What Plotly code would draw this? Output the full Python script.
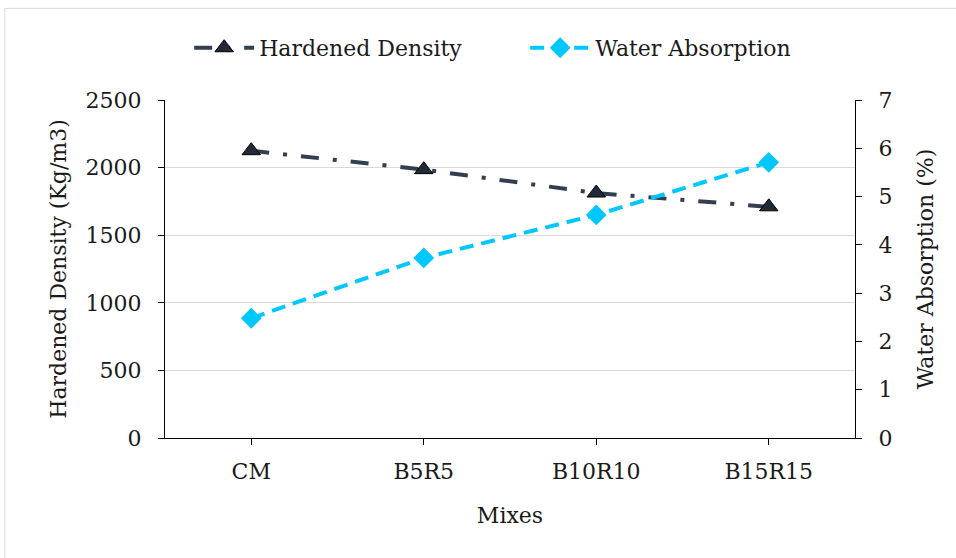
import plotly.graph_objects as go

mixes = ["CM", "B5R5", "B10R10", "B15R15"]
hardened_density = [2125, 1985, 1812, 1710]
water_absorption = [2.48, 3.73, 4.62, 5.71]

FONT = "DejaVu Serif"
FS = 22
fig = go.Figure()
fig.add_trace(go.Scatter(
    x=mixes, y=hardened_density, name="Hardened Density", mode="lines+markers",
    line=dict(color="#333F50", width=4, dash="18px,14px,4px,14px"),
    marker=dict(symbol="triangle-up", size=16, color="#222A35", line=dict(color="#000000", width=1)),
    yaxis="y", legend="legend"))
fig.add_trace(go.Scatter(
    x=mixes, y=water_absorption, name="Water Absorption", mode="lines+markers",
    line=dict(color="#00C8FF", width=4, dash="14px,8px"),
    marker=dict(symbol="diamond", size=16, color="#00C8FF"),
    yaxis="y2", legend="legend2"))

leg_common = dict(orientation="h", y=1.154, yanchor="middle", xanchor="left",
                  font=dict(family=FONT, size=FS, color="#1a1a1a"), itemwidth=60,
                  bgcolor="rgba(0,0,0,0)")
fig.update_layout(
    width=956, height=558,
    margin=dict(l=165, r=101, t=100, b=120, autoexpand=False),
    paper_bgcolor="white", plot_bgcolor="white",
    font=dict(family=FONT, size=FS, color="#1a1a1a"),
    showlegend=True,
    legend=dict(x=0.035, **leg_common),
    legend2=dict(x=0.522, **leg_common),
    xaxis=dict(range=[-0.5, 3.5], showline=True, linecolor="black", linewidth=1,
               ticks="outside", ticklen=6, tickcolor="black", ticklabelstandoff=8,
               title=dict(text="Mixes", font=dict(size=FS), standoff=24),
               showgrid=False, zeroline=False, tickfont=dict(size=FS)),
    yaxis=dict(range=[0, 2500], dtick=500, showline=True, linecolor="black", linewidth=1,
               ticks="outside", ticklen=6, tickcolor="black", gridcolor="#D9D9D9", gridwidth=1,
               ticklabelstandoff=12,
               title=dict(text="Hardened Density (Kg/m3)", font=dict(size=FS), standoff=12),
               zeroline=False, tickfont=dict(size=FS)),
    yaxis2=dict(range=[0, 7], dtick=1, overlaying="y", side="right", showline=True,
                linecolor="black", linewidth=1, ticks="outside", ticklen=6, tickcolor="black",
                showgrid=False, zeroline=False, ticklabelstandoff=12,
                title=dict(text="Water Absorption (%)", font=dict(size=FS), standoff=26),
                tickfont=dict(size=FS)),
    shapes=[dict(type="rect", xref="paper", yref="paper", x0=-0.232, x1=1.3, y0=-0.5, y1=1.271,
                 line=dict(color="#D9D9D9", width=1), layer="below")],
)
fig.write_html("out.html")
